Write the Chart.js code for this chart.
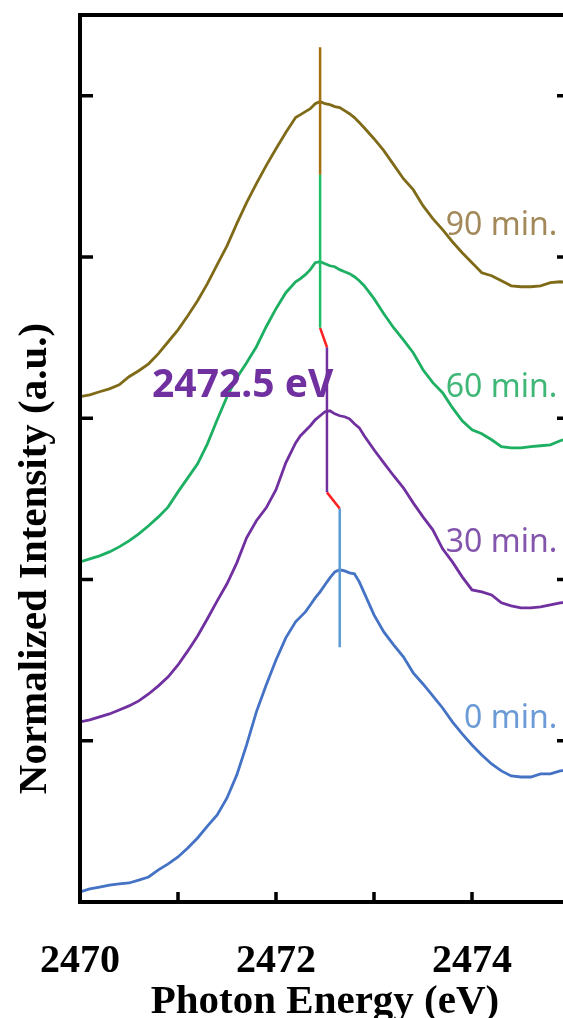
<!DOCTYPE html>
<html>
<head>
<meta charset="utf-8">
<script src="https://cdn.jsdelivr.net/npm/chart.js@4.4.1/dist/chart.umd.min.js"></script>
<style>
  html, body { margin: 0; padding: 0; background: #fff; overflow: hidden; }
  #wrap { width: 580px; height: 1040px; }
</style>
</head>
<body>
<div id="wrap"><canvas id="xanes" width="580" height="1040"></canvas></div>
<script>
// photon energy grid (eV), finer around the white line
const energy = [
  2470.0, 2470.1, 2470.2, 2470.3, 2470.4, 2470.5, 2470.6, 2470.7, 2470.8, 2470.9,
  2471.0, 2471.1, 2471.2, 2471.3, 2471.4, 2471.5, 2471.6, 2471.7, 2471.8, 2471.9,
  2472.0, 2472.1, 2472.2,
  2472.25, 2472.30, 2472.35, 2472.40, 2472.45, 2472.50, 2472.55, 2472.60, 2472.65,
  2472.70, 2472.75, 2472.80, 2472.85,
  2472.9, 2473.0, 2473.1, 2473.2, 2473.3, 2473.4, 2473.5, 2473.6, 2473.7, 2473.8,
  2473.9, 2474.0, 2474.1, 2474.2, 2474.3, 2474.4, 2474.5, 2474.6, 2474.7, 2474.8,
  2474.9, 2475.0
];

// normalized intensity, stacked with offsets
const int0min = [
  0.062, 0.081, 0.093, 0.105, 0.112, 0.118, 0.136, 0.155, 0.199, 0.236,
  0.279, 0.335, 0.397, 0.471, 0.540, 0.645, 0.788, 0.974, 1.179, 1.346,
  1.501, 1.638, 1.737,
  1.768, 1.799, 1.842, 1.886, 1.923, 1.967, 2.010, 2.047, 2.060,
  2.053, 2.041, 2.035, 1.985,
  1.917, 1.780, 1.675, 1.594, 1.520, 1.421, 1.352, 1.278, 1.203, 1.117,
  1.042, 0.974, 0.912, 0.856, 0.813, 0.782, 0.775, 0.775, 0.794, 0.794,
  0.813, 0.819
];
const int30min = [
  1.117, 1.129, 1.148, 1.166, 1.191, 1.216, 1.247, 1.290, 1.340, 1.396,
  1.470, 1.557, 1.650, 1.756, 1.867, 1.973, 2.103, 2.258, 2.364, 2.444,
  2.556, 2.723, 2.847,
  2.891, 2.922, 2.953, 2.990, 3.015, 3.040, 3.046, 3.027, 3.015,
  3.009, 2.996, 2.965, 2.940,
  2.891, 2.804, 2.723, 2.643, 2.568, 2.475, 2.388, 2.308, 2.190, 2.109,
  2.016, 1.935, 1.923, 1.904, 1.855, 1.836, 1.824, 1.824, 1.830, 1.842,
  1.855, 1.861
];
const int60min = [
  2.109, 2.128, 2.146, 2.171, 2.202, 2.239, 2.283, 2.333, 2.388, 2.450,
  2.543, 2.630, 2.717, 2.841, 2.990, 3.133, 3.251, 3.344, 3.443, 3.567,
  3.679, 3.778, 3.846,
  3.865, 3.890, 3.921, 3.964, 3.970, 3.958, 3.945, 3.939, 3.921,
  3.908, 3.896, 3.877, 3.852,
  3.821, 3.741, 3.648, 3.561, 3.486, 3.406, 3.300, 3.220, 3.158, 3.065,
  2.984, 2.928, 2.903, 2.866, 2.823, 2.816, 2.816, 2.823, 2.829, 2.835,
  2.860, 2.878
];
const int90min = [
  3.133, 3.145, 3.164, 3.182, 3.207, 3.257, 3.294, 3.337, 3.400, 3.474,
  3.548, 3.635, 3.728, 3.834, 3.952, 4.069, 4.206, 4.336, 4.454, 4.566,
  4.671, 4.771, 4.864,
  4.882, 4.901, 4.919, 4.950, 4.963, 4.950, 4.944, 4.932, 4.926,
  4.907, 4.888, 4.864, 4.833,
  4.801, 4.733, 4.659, 4.572, 4.485, 4.417, 4.318, 4.237, 4.169, 4.094,
  4.026, 3.964, 3.902, 3.883, 3.852, 3.821, 3.815, 3.815, 3.821, 3.840,
  3.846, 3.840
];

// peak position marker, [eV, intensity] end points
const peak90 = [[2472.45, 5.30], [2472.45, 4.51]];
const peak60 = [[2472.45, 4.51], [2472.45, 3.56]];
const shiftA = [[2472.45, 3.56], [2472.52, 3.44]];
const peak30 = [[2472.52, 3.44], [2472.52, 2.54]];
const shiftB = [[2472.52, 2.54], [2472.65, 2.44]];
const peak0  = [[2472.65, 2.44], [2472.65, 1.58]];

const seriesNames = ['0 min.', '30 min.', '60 min.', '90 min.'];
const xTickLabels = [2470, 2472, 2474];
const xMinorTicks = [2471, 2472, 2473, 2474];
const yMinorTicks = [1, 2, 3, 4, 5];

const toPoints = vals => energy.map((e, i) => ({ x: e, y: vals[i] }));
const toSeg = seg => seg.map(([x, y]) => ({ x, y }));

const serif = '"Liberation Serif", "Times New Roman", serif';
const sans = '"Noto Sans", "Open Sans", sans-serif';

// frame with inward ticks, curve labels and the rotated y title
const frameAndNotes = {
    id: 'frameAndNotes',
    afterDatasetsDraw(chart, args, opts) {
        const { ctx, chartArea: a, scales: { x, y } } = chart;
        ctx.save();
        ctx.strokeStyle = '#000';
        ctx.lineWidth = 4;
        ctx.strokeRect(a.left, a.top, a.right - a.left, a.bottom - a.top);

        ctx.lineWidth = 3.5;
        ctx.beginPath();
        xMinorTicks.forEach(v => {
            const px = x.getPixelForValue(v);
            ctx.moveTo(px, a.bottom);
            ctx.lineTo(px, a.bottom - 10);
        });
        yMinorTicks.forEach(v => {
            const py = y.getPixelForValue(v);
            ctx.moveTo(a.left, py);
            ctx.lineTo(a.left + 13, py);
            ctx.moveTo(a.right, py);
            ctx.lineTo(a.right - 13, py);
        });
        ctx.stroke();

        ctx.textBaseline = 'alphabetic';
        (opts.notes || []).forEach(n => {
            ctx.font = n.font;
            ctx.fillStyle = n.color;
            ctx.textAlign = n.align;
            ctx.fillText(n.text, x.getPixelForValue(n.x), y.getPixelForValue(n.y));
        });

        ctx.translate(a.left - 34, (a.top + a.bottom) / 2 + 100);
        ctx.rotate(-Math.PI / 2);
        ctx.textAlign = 'center';
        ctx.fillStyle = '#000';
        ctx.font = 'bold 41px ' + serif;
        ctx.fillText('Normalized Intensity (a.u.)', 0, 0);
        ctx.restore();
    }
};

const lineStyle = (color, width) => ({
    borderColor: color,
    borderWidth: width,
    pointRadius: 0,
    tension: 0,
    fill: false
});

const ctx = document.getElementById('xanes').getContext('2d');
new Chart(ctx, {
    type: 'line',
    data: {
        datasets: [
            { data: toSeg(peak90), ...lineStyle('#a0700f', 2.5) },
            { data: toSeg(peak60), ...lineStyle('#1fbf68', 2.5) },
            { data: toSeg(shiftA), ...lineStyle('#ff2020', 2.5) },
            { data: toSeg(peak30), ...lineStyle('#7030a0', 2.5) },
            { data: toSeg(shiftB), ...lineStyle('#ff2020', 2.5) },
            { data: toSeg(peak0), ...lineStyle('#5b9bd5', 2.5) },
            { label: seriesNames[3], data: toPoints(int90min), ...lineStyle('#7f6a18', 2.8) },
            { label: seriesNames[2], data: toPoints(int60min), ...lineStyle('#1daf62', 2.8) },
            { label: seriesNames[1], data: toPoints(int30min), ...lineStyle('#7030a0', 2.8) },
            { label: seriesNames[0], data: toPoints(int0min), ...lineStyle('#4472c4', 2.8) }
        ]
    },
    options: {
        responsive: false,
        animation: false,
        layout: { padding: { top: 15, right: 10, left: 0, bottom: 0 } },
        plugins: {
            legend: { display: false },
            tooltip: { enabled: false },
            frameAndNotes: {
                notes: [
                    { text: seriesNames[3], x: 2474.87, y: 4.138, color: '#a3895a', align: 'right', font: '32px ' + sans },
                    { text: seriesNames[2], x: 2474.87, y: 3.133, color: '#3fb777', align: 'right', font: '32px ' + sans },
                    { text: seriesNames[1], x: 2474.87, y: 2.171, color: '#8455ad', align: 'right', font: '32px ' + sans },
                    { text: seriesNames[0], x: 2474.87, y: 1.079, color: '#6b9bd6', align: 'right', font: '32px ' + sans },
                    { text: '2472.5 eV', x: 2470.735, y: 3.133, color: '#7030a0', align: 'left', font: 'bold 39px ' + sans }
                ]
            }
        },
        scales: {
            x: {
                type: 'linear',
                min: 2470,
                max: 2475,
                afterFit: s => { s.height = 138; },
                afterBuildTicks: s => { s.ticks = xTickLabels.map(v => ({ value: v })); },
                grid: { display: false, drawTicks: false },
                border: { display: false },
                ticks: {
                    padding: 36,
                    autoSkip: false,
                    maxRotation: 0,
                    color: '#000',
                    font: { family: serif, size: 40, weight: 'bold' },
                    callback: v => String(v)
                },
                title: {
                    display: true,
                    text: 'Photon Energy (eV)',
                    color: '#000',
                    font: { family: serif, size: 41, weight: 'bold' },
                    padding: { top: 0, bottom: 13 }
                }
            },
            y: {
                min: 0,
                max: 5.5,
                afterFit: s => { s.width = 80; },
                ticks: { display: false },
                grid: { display: false, drawTicks: false },
                border: { display: false }
            }
        }
    },
    plugins: [frameAndNotes]
});
</script>
</body>
</html>
